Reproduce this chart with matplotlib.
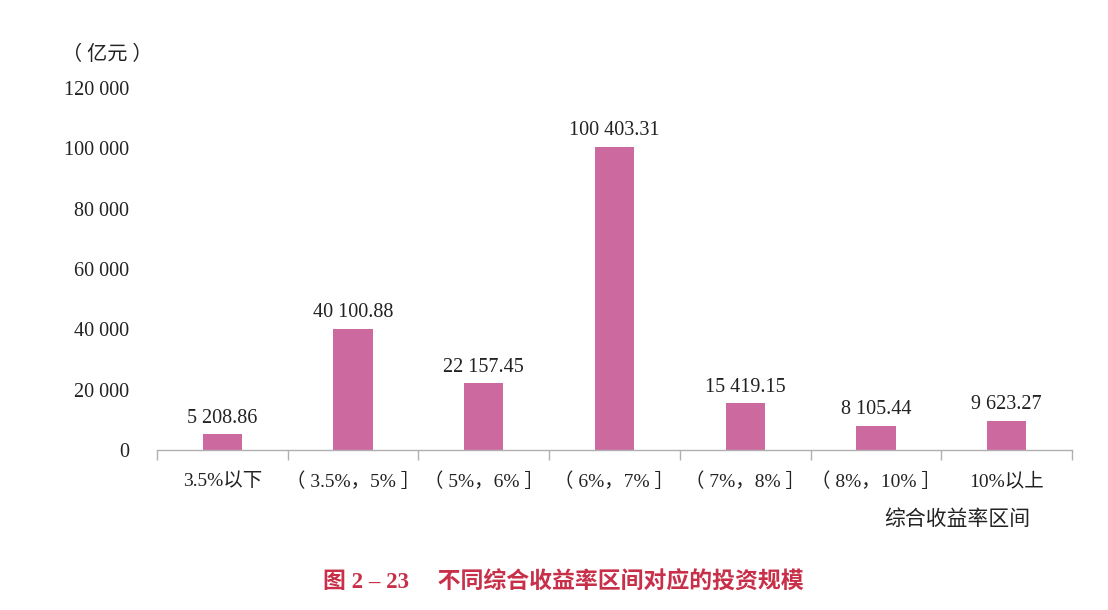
import matplotlib
matplotlib.use('Agg')
import matplotlib.pyplot as plt
import numpy as np

plt.rcParams['font.family'] = ['Liberation Serif', 'Noto Sans CJK SC']

# data
categories = ['3.5%以下', '（ 3.5%，5% ］', '（ 5%，6% ］', '（ 6%，7% ］',
              '（ 7%，8% ］', '（ 8%，10% ］', '10%以上']
values = [5208.86, 40100.88, 22157.45, 100403.31, 15419.15, 8105.44, 9623.27]
yticks = [0, 20000, 40000, 60000, 80000, 100000, 120000]

bar_color = '#cc6aa0'
text_color = '#222222'


def fmt(v, dec=0):
    s = '{:,.{d}f}'.format(v, d=dec)
    return s.replace(',', ' ')


fig = plt.figure(figsize=(11.08, 6.10), dpi=100)
ax = fig.add_axes([0.1417, 0.2623, 0.8258, 0.5934])

x = np.arange(len(categories))
ax.bar(x, values, width=0.3, color=bar_color)

for xi, v in zip(x, values):
    ax.text(xi, v + 2200, fmt(v, 2), ha='center', va='bottom',
            fontsize=14.5, color=text_color)

ax.set_xlim(-0.5, len(categories) - 0.5)
ax.set_ylim(0, 120000)

ax.set_yticks(yticks)
ax.set_yticklabels([fmt(t) for t in yticks], fontsize=14.5, color=text_color)
ax.tick_params(axis='y', length=0, pad=20)

ax.set_xticks(x)
ax.set_xticklabels(categories, fontsize=14, color=text_color)
ax.tick_params(axis='x', which='major', length=0, pad=16)
ax.set_xticks(np.arange(len(categories) + 1) - 0.5, minor=True)
ax.tick_params(axis='x', which='minor', length=7, width=1, color='#b0b0b0',
               direction='out')

for side in ['top', 'right', 'left']:
    ax.spines[side].set_visible(False)
ax.spines['bottom'].set_color('#b0b0b0')
ax.spines['bottom'].set_linewidth(1)

fig.text(0.056, 0.91, '（ 亿元 ）', fontsize=14.5, color=text_color,
         ha='left', va='center')
fig.text(0.93, 0.147, '综合收益率区间', fontsize=15, color=text_color,
         ha='right', va='center')
fig.text(0.508, 0.044, '图 2 – 23　 不同综合收益率区间对应的投资规模', fontsize=16.5,
         color='#c8304a', ha='center', va='center', fontweight='bold')

fig.savefig('out.png', dpi=100)
